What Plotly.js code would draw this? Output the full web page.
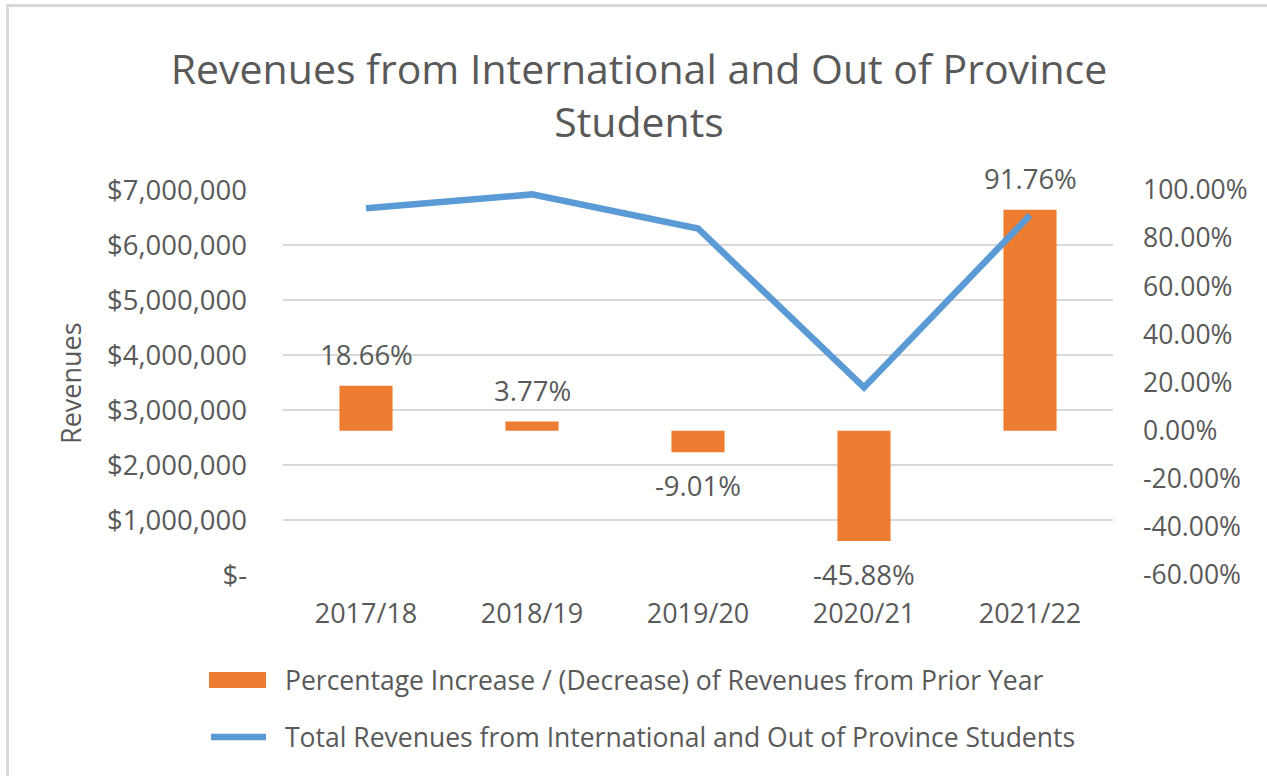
<!DOCTYPE html>
<html>
<head>
<meta charset="utf-8">
<script src="https://cdn.plot.ly/plotly-3.0.1.min.js"></script>
<style>html,body{margin:0;padding:0;background:#fff;}#chart{width:1267px;height:776px;}</style>
</head>
<body>
<div id="chart"></div>
<script>
// ---- data ----
const categories = ["2017/18", "2018/19", "2019/20", "2020/21", "2021/22"];
const pctChange = [18.66, 3.77, -9.01, -45.88, 91.76];
const pctLabels = ["18.66%", "3.77%", "-9.01%", "-45.88%", "91.76%"];
const revenues = [6670000, 6920000, 6300000, 3410000, 6540000];
const revTickVals = [0, 1000000, 2000000, 3000000, 4000000, 5000000, 6000000, 7000000];
const revTickText = ["$-", "$1,000,000", "$2,000,000", "$3,000,000", "$4,000,000", "$5,000,000", "$6,000,000", "$7,000,000"];
const pctTickVals = [-60, -40, -20, 0, 20, 40, 60, 80, 100];
const pctTickText = ["-60.00%", "-40.00%", "-20.00%", "0.00%", "20.00%", "40.00%", "60.00%", "80.00%", "100.00%"];
const barName = "Percentage Increase / (Decrease) of Revenues from Prior Year";
const lineName = "Total Revenues from International and Out of Province Students";
const titleText = "Revenues from International and Out of Province<br>Students";

// ---- style ----
const FONT = "Open Sans, Noto Sans, sans-serif";
const TXT = "#595959";
const ORANGE = "#ED7D31";
const BLUE = "#5B9BD5";
const W = 1267, H = 776;
const L = 283, R = 154, T = 190, B = 201;
const pw = W - L - R, ph = H - T - B;
const px2x = p => (p - L) / pw;
const py2y = p => (H - B - p) / ph;

const traces = [
  {
    type: "bar", x: categories, y: pctChange, name: barName,
    marker: {color: ORANGE}, width: 0.32, yaxis: "y", showlegend: false, hoverinfo: "none"
  },
  {
    type: "scatter", mode: "lines", x: categories, y: revenues, name: lineName,
    line: {color: BLUE, width: 6.5}, yaxis: "y2", showlegend: false, hoverinfo: "none"
  }
];

const annotations = pctChange.map((v, i) => ({
  x: categories[i], y: v, xref: "x", yref: "y",
  text: pctLabels[i], showarrow: false,
  yanchor: "middle", yshift: v >= 0 ? 31 : -33,
  font: {family: FONT, size: 27.5, color: TXT}
}));
annotations.push({
  x: px2x(70), y: py2y(383), xref: "paper", yref: "paper", text: "Revenues",
  textangle: -90, showarrow: false, xanchor: "center", yanchor: "middle",
  font: {family: FONT, size: 27, color: TXT}
});
annotations.push({
  x: px2x(283), y: py2y(680), xref: "paper", yref: "paper", text: barName,
  showarrow: false, xanchor: "left", yanchor: "middle",
  font: {family: FONT, size: 26.5, color: TXT}
});
annotations.push({
  x: px2x(283), y: py2y(737), xref: "paper", yref: "paper", text: lineName,
  showarrow: false, xanchor: "left", yanchor: "middle",
  font: {family: FONT, size: 26.5, color: TXT}
});

const shapes = [
  {type: "rect", xref: "paper", yref: "paper", x0: px2x(209), x1: px2x(266), y0: py2y(672), y1: py2y(688),
   fillcolor: ORANGE, line: {width: 0}},
  {type: "line", xref: "paper", yref: "paper", x0: px2x(211), x1: px2x(266), y0: py2y(737), y1: py2y(737),
   line: {color: BLUE, width: 6.5}},
  {type: "line", xref: "paper", yref: "paper", x0: px2x(7.5), x1: px2x(7.5), y0: py2y(776), y1: py2y(5.5),
   line: {color: "#D9D9D9", width: 3}},
  {type: "line", xref: "paper", yref: "paper", x0: px2x(6), x1: px2x(1267), y0: py2y(5.5), y1: py2y(5.5),
   line: {color: "#D9D9D9", width: 3}}
];

const layout = {
  width: W, height: H,
  margin: {l: L, r: R, t: T, b: B, pad: 0},
  paper_bgcolor: "#fff", plot_bgcolor: "rgba(0,0,0,0)",
  font: {family: FONT, color: TXT},
  title: {text: titleText, x: 639 / W, xref: "container", xanchor: "center", y: 1 - 84 / H, yanchor: "middle",
          font: {family: FONT, size: 41, color: TXT}},
  showlegend: false,
  bargap: 0.68,
  xaxis: {
    type: "category", showgrid: false, zeroline: false, showline: false, ticks: "",
    tickfont: {family: FONT, size: 27, color: TXT}, ticklabelstandoff: 20
  },
  yaxis: {
    side: "right", range: [-60, 100], tickvals: pctTickVals, ticktext: pctTickText,
    showgrid: false, zeroline: false, showline: false, ticks: "",
    tickfont: {family: FONT, size: 26.5, color: TXT}, ticklabelstandoff: 29
  },
  yaxis2: {
    overlaying: "y", side: "left", range: [0, 7000000], tickvals: revTickVals, ticktext: revTickText,
    showgrid: true, gridcolor: "#D9D9D9", gridwidth: 2, zeroline: false, showline: false, ticks: "",
    tickfont: {family: FONT, size: 27.5, color: TXT}, ticklabelstandoff: 35
  },
  annotations: annotations,
  shapes: shapes
};

Plotly.newPlot("chart", traces, layout, {staticPlot: true, displayModeBar: false});
</script>
</body>
</html>
